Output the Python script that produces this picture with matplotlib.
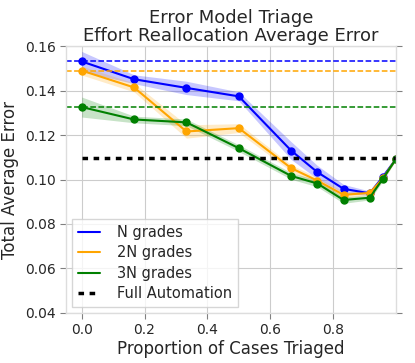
import matplotlib
matplotlib.use('Agg')
import matplotlib.pyplot as plt
import numpy as np

plt.style.use('seaborn-v0_8-whitegrid')
plt.rcParams['font.family'] = ['DejaVu Sans']

# proportion of cases triaged
x = [0.0, 1/6, 1/3, 0.5, 2/3, 0.75, 5/6, 11/12, 23/24, 1.0]

n_err = [0.1531, 0.1451, 0.1412, 0.1374, 0.1130, 0.1033, 0.0958, 0.0938, 0.1012, 0.1092]
n_sd = [0.0045, 0.0020, 0.0030, 0.0020, 0.0040, 0.0030, 0.0020, 0.0010, 0.0010, 0.0005]

n2_err = [0.1490, 0.1414, 0.1216, 0.1231, 0.1051, 0.0995, 0.0931, 0.0940, 0.1005, 0.1092]
n2_sd = [0.0020, 0.0020, 0.0030, 0.0020, 0.0015, 0.0015, 0.0015, 0.0010, 0.0010, 0.0005]

n3_err = [0.1326, 0.1270, 0.1257, 0.1141, 0.1016, 0.0982, 0.0908, 0.0918, 0.1003, 0.1092]
n3_sd = [0.0045, 0.0015, 0.0015, 0.0015, 0.0015, 0.0015, 0.0015, 0.0010, 0.0010, 0.0005]

baselines = [0.1531, 0.1490, 0.1326]
full_auto = 0.1095

labels = ['N grades', '2N grades', '3N grades']
colors = ['blue', 'orange', 'green']

fig = plt.figure(figsize=(4.15, 3.63), dpi=100)
ax = fig.add_axes([0.159, 0.138, 0.795, 0.735])

for err, sd, col, lab, base in zip([n_err, n2_err, n3_err], [n_sd, n2_sd, n3_sd],
                                   colors, labels, baselines):
    err = np.array(err)
    sd = np.array(sd)
    ax.fill_between(x, err - sd, err + sd, color=col, alpha=0.22, lw=0)
    ax.plot(x, err, '-o', color=col, lw=1.5, ms=5, label=lab)
    ax.axhline(base, color=col, ls='--', lw=1.1)

ax.hlines(full_auto, 0, 1, color='k', ls=(0, (1.6, 1.6)), lw=2.5, label='Full Automation')

ax.set_xlim(-0.05, 1.0)
ax.set_ylim(0.04, 0.16)
ax.set_xticks([0.0, 0.2, 0.4, 0.6, 0.8])
ax.set_yticks([0.04, 0.06, 0.08, 0.10, 0.12, 0.14, 0.16])
ax.tick_params(axis='both', direction='out', length=4, color='gray', labelsize=10,
               labelcolor='.15', right=True, bottom=True, left=True)
for s in ax.spines.values():
    s.set_color('#dddddd')

ax.set_xlabel('Proportion of Cases Triaged', fontsize=12, color='.15', labelpad=2)
ax.set_ylabel('Total Average Error', fontsize=12, color='.15')
ax.set_title('Error Model Triage\nEffort Reallocation Average Error', fontsize=13,
             color='.15', linespacing=0.95, pad=4)

leg = ax.legend(loc='lower left', frameon=True, fontsize=10.5, fancybox=False,
                handlelength=1.5, handletextpad=1.2, labelspacing=0.38,
                borderaxespad=0.4)
leg.get_frame().set_edgecolor('#cccccc')
for h in leg.get_lines():
    h.set_marker('')

fig.savefig('out.png', dpi=100)
